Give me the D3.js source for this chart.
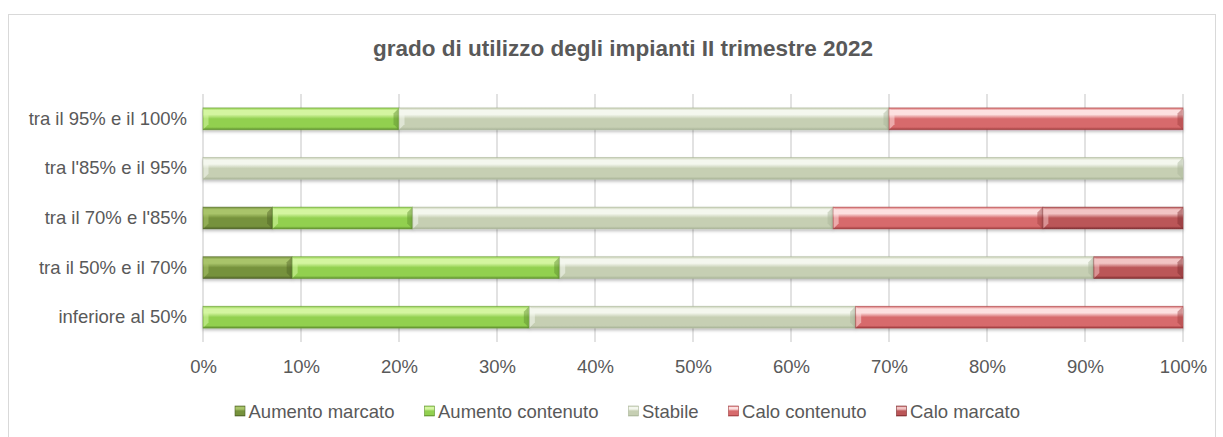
<!DOCTYPE html>
<html>
<head>
<meta charset="utf-8">
<script src="https://cdn.jsdelivr.net/npm/d3@7"></script>
<style>
  body { margin: 0; background: #fff; }
  text { font-family: "Liberation Sans", Arial, sans-serif; fill: #595959; }
</style>
</head>
<body>
<div id="chart"></div>
<script>
// grado di utilizzo - stacked 100% bars

var categories = ["tra il 95% e il 100%", "tra l'85% e il 95%", "tra il 70% e l'85%", "tra il 50% e il 70%", "inferiore al 50%"];
var seriesNames = ["Aumento marcato", "Aumento contenuto", "Stabile", "Calo contenuto", "Calo marcato"];

// percent values per category, same order as categories
var aumentoMarcato   = [0,    0,   7.1,  9.1,  0];
var aumentoContenuto = [20,   0,   14.3, 27.3, 33.3];
var stabile          = [50,   100, 42.9, 54.5, 33.3];
var caloContenuto    = [30,   0,   21.4, 0,    33.4];
var caloMarcato      = [0,    0,   14.3, 9.1,  0];

var xTicks = [0, 10, 20, 30, 40, 50, 60, 70, 80, 90, 100];

// colours: [highlight, base, dark]
var colors = [
    ["#a9c46a", "#76923c", "#4f6228"],
    ["#d4f5a0", "#92d050", "#5e8f2c"],
    ["#f4f7ee", "#c6cfb3", "#a9b498"],
    ["#fde0e0", "#d76a6c", "#9e3b3d"],
    ["#f2c4c4", "#bb5658", "#7c2b2d"]
];

var W = 1223, H = 437;
var margin = { left: 203, right: 40, top: 94, bottom: 95 };
var width = W - margin.left - margin.right,
    height = H - margin.top - margin.bottom;
var fs = "18.5px";

var data = categories.map(function (c, i) {
    return {
        cat: c,
        "Aumento marcato": aumentoMarcato[i],
        "Aumento contenuto": aumentoContenuto[i],
        "Stabile": stabile[i],
        "Calo contenuto": caloContenuto[i],
        "Calo marcato": caloMarcato[i]
    };
});

var svg = d3.select("#chart").append("svg")
    .attr("width", W)
    .attr("height", H);

// chart frame
svg.append("rect")
    .attr("x", 8.5).attr("y", 14.5)
    .attr("width", 1207).attr("height", 430)
    .attr("fill", "#fff")
    .attr("stroke", "#d9d9d9");

var defs = svg.append("defs");
colors.forEach(function (c, i) {
    var g = defs.append("linearGradient")
        .attr("id", "grad" + i)
        .attr("x1", 0).attr("y1", 0).attr("x2", 0).attr("y2", 1);
    g.append("stop").attr("offset", "0%").attr("stop-color", c[1]);
    g.append("stop").attr("offset", "12%").attr("stop-color", c[0]);
    g.append("stop").attr("offset", "30%").attr("stop-color", c[0]);
    g.append("stop").attr("offset", "50%").attr("stop-color", c[1]);
    g.append("stop").attr("offset", "88%").attr("stop-color", c[1]);
    g.append("stop").attr("offset", "100%").attr("stop-color", c[2]);
});
var sh = defs.append("filter").attr("id", "shadow")
    .attr("x", "-5%").attr("y", "-30%").attr("width", "110%").attr("height", "180%");
sh.append("feDropShadow")
    .attr("dx", 0).attr("dy", 2).attr("stdDeviation", 1.5)
    .attr("flood-color", "#000").attr("flood-opacity", 0.25);

// title
svg.append("text")
    .attr("x", 623).attr("y", 56)
    .attr("text-anchor", "middle")
    .style("font-size", "22.5px")
    .style("font-weight", "bold")
    .text("grado di utilizzo degli impianti II trimestre 2022");

var xScale = d3.scaleLinear().domain([0, 100]).range([0, width]);
var yScale = d3.scaleBand().domain(categories).range([0, height]).paddingInner(0.56).paddingOuter(0.28);

var chartGroup = svg.append("g")
    .attr("transform", "translate(" + margin.left + "," + margin.top + ")");

// gridlines
chartGroup.selectAll(".grid")
    .data(xTicks)
    .enter().append("line")
    .attr("x1", function (d) { return xScale(d); })
    .attr("x2", function (d) { return xScale(d); })
    .attr("y1", 0).attr("y2", height)
    .attr("stroke", "#d9d9d9")
    .attr("stroke-width", 1.5);

var stack = d3.stack().keys(seriesNames);
var layers = stack(data);

var layerG = chartGroup.selectAll(".layer")
    .data(layers)
    .enter().append("g")
    .attr("class", "layer")
    .attr("filter", "url(#shadow)");

var bh = yScale.bandwidth();
var bev = 5;

layerG.each(function (layer, li) {
    var g = d3.select(this);
    var segs = layer.filter(function (d) { return d[1] - d[0] > 0.01; });

    g.selectAll("rect")
        .data(segs)
        .enter().append("rect")
        .attr("x", function (d) { return xScale(d[0]); })
        .attr("y", function (d) { return yScale(d.data.cat); })
        .attr("width", function (d) { return xScale(d[1]) - xScale(d[0]); })
        .attr("height", bh)
        .attr("fill", "url(#grad" + li + ")")
        .attr("stroke", colors[li][2])
        .attr("stroke-opacity", 0.6)
        .attr("stroke-width", 0.8);

    // bevel corners: left light, right dark
    g.selectAll(".bl")
        .data(segs)
        .enter().append("path")
        .attr("d", function (d) {
            var x = xScale(d[0]) + 0.5, y = yScale(d.data.cat) + 0.5;
            return "M" + x + "," + y + "L" + (x + bev) + "," + (y + bev) +
                "L" + (x + bev) + "," + (y + bh - 1 - bev) + "L" + x + "," + (y + bh - 1) + "Z";
        })
        .attr("fill", colors[li][0])
        .attr("opacity", 0.55);

    g.selectAll(".br")
        .data(segs)
        .enter().append("path")
        .attr("d", function (d) {
            var x = xScale(d[1]) - 0.5, y = yScale(d.data.cat) + 0.5;
            return "M" + x + "," + y + "L" + (x - bev) + "," + (y + bev) +
                "L" + (x - bev) + "," + (y + bh - 1 - bev) + "L" + x + "," + (y + bh - 1) + "Z";
        })
        .attr("fill", colors[li][2])
        .attr("opacity", 0.45);
});

// axes
var xAxis = d3.axisBottom(xScale)
    .tickValues(xTicks)
    .tickSize(0)
    .tickPadding(18)
    .tickFormat(function (d) { return d + "%"; });

var yAxis = d3.axisLeft(yScale).tickSize(0).tickPadding(16);

var gx = chartGroup.append("g")
    .attr("class", "axis x")
    .attr("transform", "translate(0," + height + ")")
    .call(xAxis);
gx.select(".domain").remove();
gx.selectAll("text").style("font-size", fs).attr("fill", "#595959");

var gy = chartGroup.append("g")
    .attr("class", "axis y")
    .call(yAxis);
gy.select(".domain").remove();
gy.selectAll("text").style("font-size", fs).attr("fill", "#595959");

// legend
var legend = svg.append("g").attr("transform", "translate(0,411)");
var lx = 235;
seriesNames.forEach(function (name, i) {
    var item = legend.append("g").attr("transform", "translate(" + lx + ",0)");
    item.append("rect")
        .attr("x", 0).attr("y", -5)
        .attr("width", 10).attr("height", 10)
        .attr("fill", "url(#grad" + i + ")")
        .attr("stroke", colors[i][2])
        .attr("stroke-width", 0.6);
    var t = item.append("text")
        .attr("x", 13.5).attr("y", 6.5)
        .style("font-size", fs)
        .text(name);
    lx += 13.5 + t.node().getComputedTextLength() + 30;
});
</script>
</body>
</html>
